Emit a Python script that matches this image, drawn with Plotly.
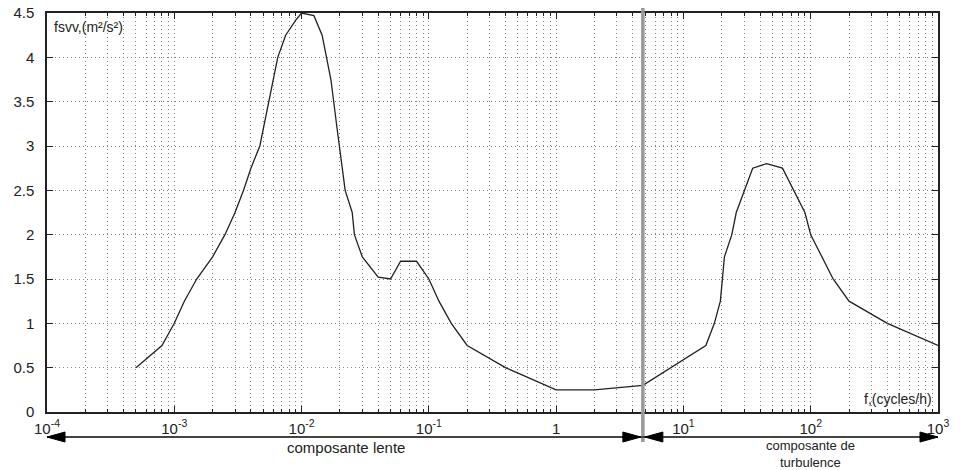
import plotly.graph_objects as go

freq = [5e-4, 8e-4, 1e-3, 1.2e-3, 1.5e-3, 2e-3, 2.5e-3, 3e-3, 3.5e-3, 4e-3, 4.7e-3,
        5.5e-3, 6.5e-3, 7.5e-3, 9e-3, 1.0e-2, 1.25e-2, 1.45e-2, 1.7e-2, 1.9e-2, 2.2e-2,
        2.5e-2, 2.6e-2, 3e-2, 4e-2, 5e-2, 6e-2, 8e-2, 0.1, 0.12, 0.15, 0.2, 0.4, 1, 2,
        4.8, 15, 17.5, 19.5, 21, 24, 26, 35, 45, 60, 90, 100, 150, 200, 400, 1000]
fsvv = [0.5, 0.75, 1.0, 1.25, 1.5, 1.75, 2.0, 2.25, 2.5, 2.75, 3.0,
        3.5, 4.0, 4.25, 4.42, 4.5, 4.47, 4.25, 3.75, 3.2, 2.5,
        2.25, 2.0, 1.75, 1.52, 1.5, 1.7, 1.7, 1.5, 1.25, 1.0, 0.75, 0.5, 0.25, 0.25,
        0.3, 0.75, 1.0, 1.25, 1.75, 2.0, 2.25, 2.75, 2.8, 2.75, 2.25, 2.0, 1.5, 1.25, 1.0, 0.75]

x_tickvals = [1e-4, 1e-3, 1e-2, 1e-1, 1, 10, 100, 1000]
x_ticktext = ["10<sup>-4</sup>", "10<sup>-3</sup>", "10<sup>-2</sup>", "10<sup>-1</sup>",
              "1", "10<sup>1</sup>", "10<sup>2</sup>", "10<sup>3</sup>"]
x_minor = [k * 10.0 ** e for e in range(-4, 3) for k in range(2, 10)]
y_tickvals = [0, 0.5, 1, 1.5, 2, 2.5, 3, 3.5, 4, 4.5]
y_ticktext = ["0", "0.5", "1", "1.5", "2", "2.5", "3", "3.5", "4", "4.5"]

f_split = 4.8
label_y = "fsvv,(m²/s²)"
label_x = "f,(cycles/h)"
label_slow = "composante lente"
label_turb_1 = "composante de"
label_turb_2 = "turbulence"

FONT = "Liberation Sans, Arial, sans-serif"
GRID = "#808080"
DOT = "1px,3px"

fig = go.Figure()
fig.add_trace(go.Scatter(x=freq, y=fsvv, mode="lines",
                         line=dict(color="#222222", width=1.3), showlegend=False,
                         hoverinfo="skip"))

fig.update_layout(
    width=962, height=470,
    margin=dict(l=47, r=24, t=13, b=58, autoexpand=False),
    paper_bgcolor="white", plot_bgcolor="white",
    font=dict(family=FONT, size=14, color="#222222"),
    xaxis=dict(type="log", range=[-4, 3], tickmode="array", automargin=False,
               tickvals=x_tickvals, ticktext=x_ticktext,
               ticks="inside", ticklen=6, tickcolor="#222222", ticklabelstandoff=2,
               showgrid=True, gridcolor=GRID, griddash=DOT, gridwidth=1,
               minor=dict(tickmode="array", tickvals=x_minor, ticks="inside",
                          ticklen=3, tickcolor="#222222", showgrid=True,
                          gridcolor=GRID, griddash=DOT, gridwidth=1),
               showline=True, linecolor="#222222", linewidth=1.5, mirror="ticks",
               zeroline=False, tickfont=dict(size=15)),
    yaxis=dict(range=[0, 4.5], tickmode="array", tickvals=y_tickvals, ticktext=y_ticktext,
               automargin=False,
               ticks="inside", ticklen=6, tickcolor="#222222", ticklabelstandoff=8,
               showgrid=True, gridcolor=GRID, griddash=DOT, gridwidth=1,
               showline=True, linecolor="#222222", linewidth=1.5, mirror="ticks",
               zeroline=False, tickfont=dict(size=15)),
)

# gray split line
fig.add_shape(type="line", xref="x", yref="paper", x0=f_split, x1=f_split,
              y0=1.0125, y1=-0.075, line=dict(color="#999999", width=3.5))

ay = -0.0627
# arrow shafts
fig.add_shape(type="line", xref="x", yref="paper", x0=1e-4, x1=f_split, y0=ay, y1=ay,
              line=dict(color="#444444", width=2))
fig.add_shape(type="line", xref="x", yref="paper", x0=f_split, x1=1000, y0=ay, y1=ay,
              line=dict(color="#444444", width=2))
# arrow heads (pixel-sized triangles anchored at data positions)
def head(xa, direction, shift):
    d = direction
    path = f"M{shift},0 L{shift + d*18},5 L{shift + d*18},-5 Z"
    fig.add_shape(type="path", xref="x", yref="paper", xsizemode="pixel", ysizemode="pixel",
                  xanchor=xa, yanchor=ay, path=path,
                  fillcolor="black", line=dict(color="black", width=1))

head(1e-4, 1, 0)
head(f_split, -1, -2)
head(f_split, 1, 2)
head(1000, -1, 0)

fig.add_annotation(text=label_y, xref="paper", yref="paper", x=0.006, y=0.99,
                   xanchor="left", yanchor="top", showarrow=False,
                   font=dict(size=14, family=FONT))
fig.add_annotation(text=label_x, xref="paper", yref="paper", x=0.996, y=0.008,
                   xanchor="right", yanchor="bottom", showarrow=False,
                   font=dict(size=14, family=FONT))
fig.add_annotation(text=label_slow, xref="paper", yref="paper", x=(346 - 47) / 891, y=-0.09,
                   xanchor="center", yanchor="middle", showarrow=False,
                   font=dict(size=15, family=FONT))
xt = (810 - 47) / 891
fig.add_annotation(text=label_turb_1, xref="paper", yref="paper", x=xt, y=-0.084,
                   xanchor="center", yanchor="middle", showarrow=False,
                   font=dict(size=13, family=FONT), borderpad=0)
fig.add_annotation(text=label_turb_2, xref="paper", yref="paper", x=xt, y=-0.127,
                   xanchor="center", yanchor="middle", showarrow=False,
                   font=dict(size=13, family=FONT), borderpad=0)

fig.write_html("out.html", config={"displayModeBar": False},
               post_script="document.body.style.margin='0px';")
